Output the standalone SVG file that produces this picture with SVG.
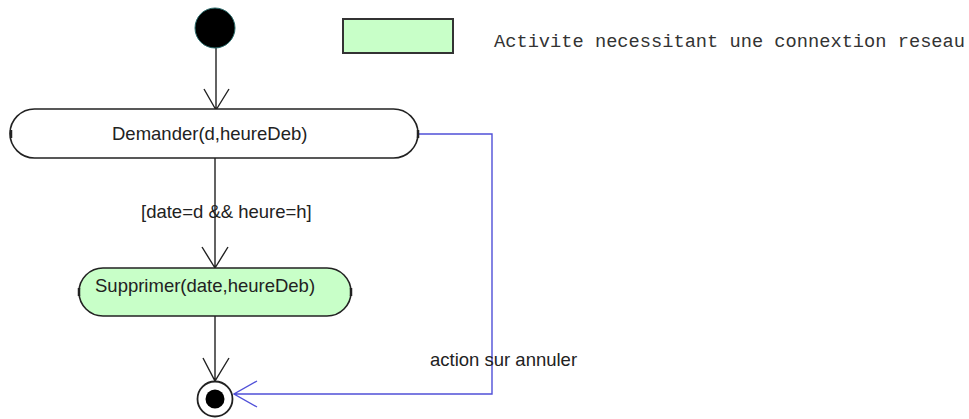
<svg xmlns="http://www.w3.org/2000/svg" width="969" height="419" viewBox="0 0 969 419">
<style>
.lbl{font-family:"Liberation Sans",Arial,sans-serif;font-size:18.5px;fill:#222}
.mono{font-family:"Liberation Mono","Courier New",monospace;font-size:18.7px;fill:#333}
.node{stroke:#222;stroke-width:1.6}
.edge{fill:none;stroke:#222;stroke-width:1.4}
.blue{fill:none;stroke:#5050d8;stroke-width:1.4}
.tick{stroke:#222;stroke-width:2.5}
</style>
<rect width="969" height="419" fill="#fff"/>
<g id="legend">
<rect x="343" y="19" width="110" height="34" fill="#c8ffc8" stroke="#333" stroke-width="2"/>
<text class="mono" x="494" y="47">Activite necessitant une connextion reseau</text>
</g>
<g id="connectors">
<path class="edge" d="M216 48 V110 M204 89 L216 110 L229 89"/>
<path class="edge" d="M215 158 V268 M202 247 L215 268 L228 247"/>
<text class="lbl" x="141" y="218">[date=d &amp;&amp; heure=h]</text>
<path class="edge" d="M215 316 V381 M203 358 L215 381 L229 358"/>
<path class="blue" d="M418 134 H492 V394 H234 M257 381 L234 394 L257 407"/>
<text class="lbl" x="430" y="366">action sur annuler</text>
</g>
<g id="start">
<circle cx="215" cy="28" r="20" fill="#000" stroke="#2a6a6a" stroke-width="1"/>
</g>
<g id="demander">
<rect class="node" x="10" y="109" width="408" height="49" rx="24.5" fill="#fff"/>
<line class="tick" x1="11" y1="130" x2="11" y2="138"/>
<line class="tick" x1="418" y1="130" x2="418" y2="138"/>
<text class="lbl" x="112" y="140">Demander(d,heureDeb)</text>
</g>
<g id="supprimer">
<rect class="node" x="79" y="268" width="272" height="48" rx="24" fill="#c8ffc8"/>
<line class="tick" x1="79" y1="288" x2="79" y2="296"/>
<line class="tick" x1="351" y1="288" x2="351" y2="296"/>
<text class="lbl" x="95" y="292">Supprimer(date,heureDeb)</text>
</g>
<g id="end">
<circle cx="215" cy="399" r="17.5" fill="#fff" stroke="#222" stroke-width="1.8"/>
<circle cx="215" cy="399" r="9.5" fill="#000"/>
</g>
</svg>
